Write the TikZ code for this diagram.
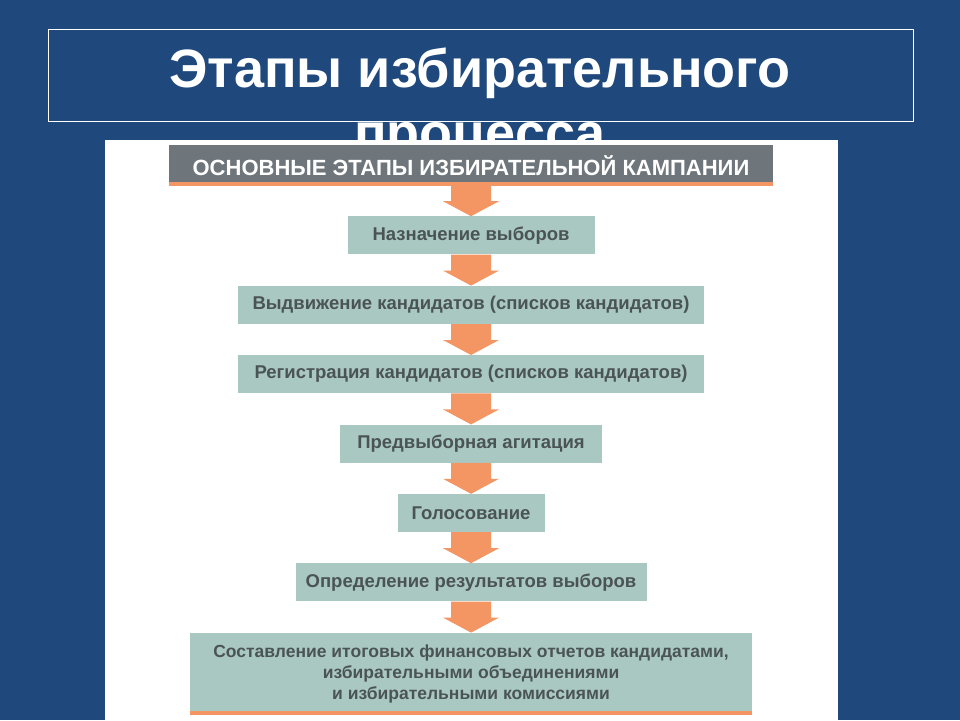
\documentclass[tikz,border=0pt]{standalone}
\usepackage{fontspec}
\setmainfont{Liberation Sans}
\usepackage{tikz}
\usetikzlibrary{positioning}
\usetikzlibrary{calc}
\definecolor{slideblue}{RGB}{31,73,125}
\definecolor{headgray}{RGB}{110,118,123}
\definecolor{stagefill}{RGB}{170,200,194}
\definecolor{stagetext}{RGB}{75,84,85}
\definecolor{accent}{RGB}{244,150,100}
\tikzstyle{titletext} = [anchor=north, text=white, align=center, inner sep=0pt, font=\fontsize{54}{64}\selectfont\bfseries]
\tikzstyle{titleframe} = [rectangle, draw=white, line width=0.8pt, minimum width=865pt, minimum height=92pt, inner sep=0pt]
\tikzstyle{header} = [rectangle, fill=headgray, text=white, minimum width=604pt, minimum height=41pt, inner sep=0pt, font=\fontsize{22}{26}\selectfont\bfseries]
\tikzstyle{stage} = [rectangle, fill=stagefill, text=stagetext, minimum height=38pt, inner sep=0pt, align=center, font=\fontsize{18.5}{21}\selectfont\bfseries]
\tikzstyle{arrowfill} = [fill=accent]
\newcommand{\stagearrow}[2]{%
  \fill[arrowfill] ($(#1.south)+(-20,0)$) -- ($(#2.north)+(-20,-15)$) -- ($(#2.north)+(-28,-15)$) -- (#2.north)
    -- ($(#2.north)+(28,-15)$) -- ($(#2.north)+(20,-15)$) -- ($(#1.south)+(20,0)$) -- cycle;}

\begin{document}
\begin{tikzpicture}[x=1pt,y=-1pt,node distance=31pt]
    \fill[slideblue] (0,0) rectangle (960,720);
    \useasboundingbox (0,0) rectangle (960,720);

    \node [titleframe] (frame) at (480.5,75) {};
    \node [titletext] (title) at (480,48) {Этапы избирательного\\процесса};

    % white sheet with the scheme
    \fill[white] (105,140) rectangle (838,720);

    \node [header] (hdr) at (471,165.5) {ОСНОВНЫЕ ЭТАПЫ ИЗБИРАТЕЛЬНОЙ КАМПАНИИ};
    \node [stage, minimum width=247pt, below=30pt of hdr] (appoint) {Назначение выборов};
    \node [stage, minimum width=466pt, below= of appoint] (nominate) {Выдвижение кандидатов (списков кандидатов)};
    \node [stage, minimum width=466pt, below= of nominate] (register) {Регистрация кандидатов (списков кандидатов)};
    \node [stage, minimum width=262pt, below= of register] (campaign) {Предвыборная агитация};
    \node [stage, minimum width=147pt, below= of campaign] (vote) {Голосование};
    \node [stage, minimum width=351pt, below= of vote] (results) {Определение результатов выборов};
    \node [stage, minimum width=562pt, minimum height=82pt, font=\fontsize{17.5}{21}\selectfont\bfseries, below= of results] (reports)
        {Составление итоговых финансовых отчетов кандидатами,\\избирательными объединениями\\и избирательными комиссиями};

    \fill[accent] (hdr.south west) rectangle ($(hdr.south east)+(0,-4)$);
    \fill[accent] (reports.south west) rectangle ($(reports.south east)+(0,-4)$);

    \stagearrow{hdr}{appoint}
    \stagearrow{appoint}{nominate}
    \stagearrow{nominate}{register}
    \stagearrow{register}{campaign}
    \stagearrow{campaign}{vote}
    \stagearrow{vote}{results}
    \stagearrow{results}{reports}
\end{tikzpicture}
\end{document}
